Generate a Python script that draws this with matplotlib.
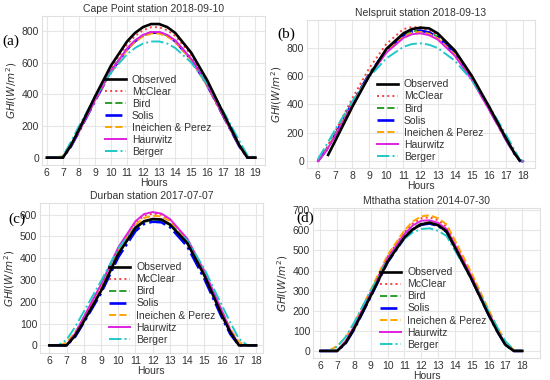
import matplotlib
matplotlib.use('Agg')
import matplotlib.pyplot as plt

# ---- data (GHI in W/m^2) ----
labels = ['Observed', 'McClear', 'Bird', 'Solis', 'Ineichen & Perez', 'Haurwitz', 'Berger']

# (a) Cape Point 2018-09-10
a_hours = [6, 6.5, 7, 7.5, 8, 9, 10, 11, 11.5, 12, 12.5, 13, 13.5, 14, 15, 16, 17, 18, 18.5, 19]
a_observed = [0, 0, 0, 77, 176, 385, 581, 733, 787, 824, 843, 843, 824, 787, 662, 487, 280, 77, 0, 0]
a_mcclear = [0, 0, 0, 75, 172, 376, 567, 715, 768, 804, 823, 823, 804, 768, 647, 475, 273, 75, 0, 0]
a_bird = [0, 0, 0, 72, 164, 360, 543, 685, 735, 770, 788, 788, 770, 735, 619, 455, 261, 72, 0, 0]
a_solis = [0, 0, 0, 70, 163, 358, 542, 684, 735, 771, 789, 789, 771, 735, 620, 456, 262, 71, 0, 0]
a_ineichen = [0, 0, 10, 75, 166, 360, 540, 681, 731, 765, 783, 783, 765, 731, 615, 452, 262, 74, 0, 0]
a_haurwitz = [0, 0, 0, 72, 165, 362, 546, 689, 740, 775, 793, 793, 775, 740, 623, 458, 263, 72, 0, 0]
a_berger = [0, 0, 8, 100, 198, 382, 537, 653, 692, 720, 733, 733, 720, 692, 600, 464, 293, 105, 15, 0]

# (b) Nelspruit 2018-09-13
b_hours = [6, 6.5, 7, 8, 9, 10, 11, 11.5, 12, 12.5, 13, 14, 15, 16, 17, 17.5, 17.8, 18]
b_obs_hours = [6.6, 7, 8, 9, 10, 11, 11.5, 12, 12.5, 13, 14, 15, 16, 17, 17.5, 17.8]
b_observed = [45, 140, 380, 600, 790, 900, 930, 940, 935, 900, 780, 600, 385, 160, 55, 5]
b_mcclear = [0, 90, 205, 440, 655, 825, 930, 945, 942, 920, 885, 770, 595, 380, 155, 55, 5, 0]
b_bird = [0, 81, 184, 407, 615, 781, 887, 914, 920, 907, 876, 760, 585, 373, 153, 52, 5, 0]
b_solis = [0, 80, 183, 405, 613, 780, 887, 913, 919, 906, 875, 759, 585, 372, 152, 51, 4, 0]
b_ineichen = [0, 80, 182, 402, 608, 773, 877, 904, 910, 897, 866, 752, 579, 369, 151, 52, 5, 0]
b_haurwitz = [0, 75, 175, 395, 600, 764, 868, 894, 900, 887, 857, 743, 572, 365, 149, 51, 4, 0]
b_berger = [15, 115, 220, 420, 593, 724, 805, 825, 830, 820, 797, 708, 569, 391, 186, 76, 11, 0]

# (c) Durban 2017-07-07
c_hours = [6, 6.5, 7, 7.5, 8, 9, 10, 11, 11.5, 12, 12.5, 13, 14, 15, 16, 16.5, 17, 17.5, 18]
c_observed = [0, 0, 0, 45, 110, 250, 420, 540, 570, 580, 578, 555, 470, 320, 140, 60, 0, 0, 0]
c_mcclear = [0, 0, 0, 50, 125, 272, 442, 562, 595, 605, 600, 577, 488, 338, 158, 68, 3, 0, 0]
c_bird = [0, 0, 0, 45, 112, 252, 420, 538, 567, 575, 573, 552, 470, 322, 145, 60, 2, 0, 0]
c_solis = [0, 0, 0, 40, 105, 240, 405, 525, 558, 568, 565, 543, 455, 305, 130, 52, 0, 0, 0]
c_ineichen = [0, 0, 12, 60, 128, 275, 440, 555, 585, 595, 592, 570, 484, 338, 162, 75, 15, 0, 0]
c_haurwitz = [0, 0, 0, 55, 130, 280, 450, 570, 603, 612, 605, 580, 490, 340, 160, 70, 3, 0, 0]
c_berger = [0, 0, 25, 85, 155, 295, 445, 545, 570, 578, 575, 556, 482, 350, 185, 105, 30, 0, 0]

# (d) Mthatha 2014-07-30
d_hours = [6, 6.5, 7, 7.5, 8, 9, 10, 11, 11.5, 12, 12.5, 13, 13.5, 14, 15, 16, 16.5, 17, 17.5, 18]
d_observed = [0, 0, 0, 40, 110, 275, 445, 565, 605, 630, 638, 625, 595, 515, 355, 180, 100, 30, 0, 0]
d_mcclear = [0, 0, 0, 48, 122, 295, 470, 593, 635, 660, 665, 650, 620, 540, 375, 195, 110, 35, 0, 0]
d_bird = [0, 0, 0, 42, 112, 280, 450, 570, 612, 635, 640, 627, 598, 520, 360, 185, 103, 32, 0, 0]
d_solis = [0, 0, 0, 38, 106, 272, 442, 563, 605, 628, 634, 622, 593, 515, 355, 180, 100, 30, 0, 0]
d_ineichen = [0, 0, 25, 65, 135, 305, 478, 600, 645, 670, 675, 660, 630, 550, 385, 205, 120, 45, 5, 0]
d_haurwitz = [0, 0, 0, 48, 120, 290, 462, 582, 625, 648, 650, 637, 607, 528, 368, 190, 107, 33, 0, 0]
d_berger = [0, 0, 20, 70, 140, 300, 455, 558, 590, 607, 610, 598, 572, 500, 357, 198, 120, 48, 5, 0]

# line styles for the 7 series
styles = [
    dict(color='black', ls='-', lw=1.9),
    dict(color='#ff4040', ls=':', lw=1.4),
    dict(color='#2ca02c', ls='--', lw=1.4),
    dict(color='blue', ls='-.', lw=1.9),
    dict(color='orange', ls='--', lw=1.4),
    dict(color='#e020e0', ls='-', lw=1.4),
    dict(color='#20c8c8', ls='-.', lw=1.4),
]

plt.rcParams['font.family'] = ['Liberation Sans', 'DejaVu Sans']
plt.rcParams['mathtext.fontset'] = 'dejavusans'

fig = plt.figure(figsize=(5.5, 3.8), dpi=100)

panels = [
    dict(title='Cape Point station 2018-09-10', tag='(a)', rect=[0.0764, 0.566, 0.4055, 0.392],
         xlim=(5.7, 19.6), ylim=(-46, 894), xticks=range(6, 20), yticks=range(0, 801, 200),
         legend=(0.52, 0.33), tagpos=(0.005, 0.892),
         hours=a_hours, obs_hours=a_hours,
         series=[a_observed, a_mcclear, a_bird, a_solis, a_ineichen, a_haurwitz, a_berger]),
    dict(title='Nelspruit station 2018-09-13', tag='(b)', rect=[0.558, 0.558, 0.4145, 0.389],
         xlim=(5.36, 18.68), ylim=(-47, 993), xticks=range(6, 19), yticks=range(0, 801, 200),
         legend=(0.54, 0.32), tagpos=(0.505, 0.91),
         hours=b_hours, obs_hours=b_obs_hours,
         series=[b_observed, b_mcclear, b_bird, b_solis, b_ineichen, b_haurwitz, b_berger]),
    dict(title='Durban station 2017-07-07', tag='(c)', rect=[0.0727, 0.071, 0.405, 0.395],
         xlim=(5.46, 18.38), ylim=(-35, 654), xticks=range(6, 19), yticks=range(0, 601, 100),
         legend=(0.55, 0.33), tagpos=(0.015, 0.424),
         hours=c_hours, obs_hours=c_hours,
         series=[c_observed, c_mcclear, c_bird, c_solis, c_ineichen, c_haurwitz, c_berger]),
    dict(title='Mthatha station 2014-07-30', tag='(d)', rect=[0.569, 0.058, 0.413, 0.395],
         xlim=(5.56, 19.06), ylim=(-35, 712), xticks=range(6, 19), yticks=range(0, 701, 100),
         legend=(0.53, 0.33), tagpos=(0.539, 0.426),
         hours=d_hours, obs_hours=d_hours,
         series=[d_observed, d_mcclear, d_bird, d_solis, d_ineichen, d_haurwitz, d_berger]),
]

for p in panels:
    ax = fig.add_axes(p['rect'])
    for i, (vals, lab, st) in enumerate(zip(p['series'], labels, styles)):
        x = p['obs_hours'] if i == 0 else p['hours']
        ax.plot(x, vals, label=lab, zorder=3 if i == 0 else 2, **st)
    ax.set_xlim(*p['xlim'])
    ax.set_ylim(*p['ylim'])
    ax.set_xticks(list(p['xticks']))
    ax.set_yticks(list(p['yticks']))
    ax.grid(True, color='#e6e6e6', lw=0.8)
    ax.set_axisbelow(True)
    for s in ax.spines.values():
        s.set_color('#e0e0e0')
        s.set_linewidth(0.8)
    ax.tick_params(length=0, labelsize=7.5, colors='#333333', pad=2)
    ax.set_title(p['title'], fontsize=7.5, color='#333333', pad=3)
    ax.set_xlabel('Hours', fontsize=7.5, color='#333333', labelpad=0)
    ax.set_ylabel(r'$GHI(W/m^2)$', fontsize=7.5, color='#333333', labelpad=2)
    leg = ax.legend(loc='center', bbox_to_anchor=p['legend'], frameon=False, fontsize=7.5,
                    labelspacing=0.2, handlelength=2.0, handletextpad=0.6, borderpad=0.2)
    for t in leg.get_texts():
        t.set_color('#333333')
    fig.text(p['tagpos'][0], p['tagpos'][1], p['tag'], fontsize=11,
             family=['Liberation Serif', 'DejaVu Serif'], va='center', ha='left')

fig.savefig('out.png', dpi=100)
